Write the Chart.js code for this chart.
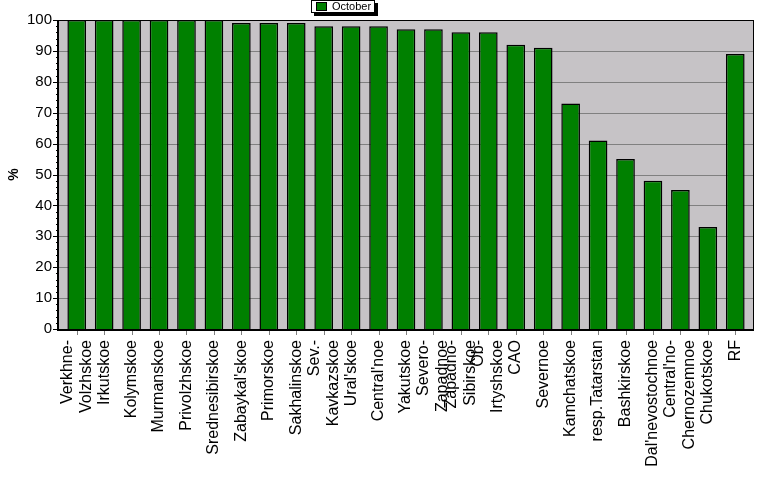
<!DOCTYPE html>
<html>
<head>
<meta charset="utf-8">
<script src="https://cdn.jsdelivr.net/npm/chart.js@4/dist/chart.umd.min.js"></script>
<style>
  html, body { margin: 0; padding: 0; background: #fff; }
  #wrap { width: 777px; height: 479px; }
</style>
</head>
<body>
<div id="wrap"><canvas id="myChart" width="777" height="479"></canvas></div>
<script>
var regions = [
    ["Verkhne-", "Volzhskoe"], "Irkutskoe", "Kolymskoe", "Murmanskoe", "Privolzhskoe",
    "Srednesibirskoe", "Zabaykal'skoe", "Primorskoe", "Sakhalinskoe", ["Sev.-", "Kavkazskoe"],
    "Ural'skoe", "Central'noe", "Yakutskoe", ["Severo-", "Zapadnoe"], ["Zapadno-", "Sibirskoe"],
    ["Ob-", "Irtyshskoe"], "CAO", "Severnoe", "Kamchatskoe", "resp.Tatarstan",
    "Bashkirskoe", "Dal'nevostochnoe", ["Central'no-", "Chernozemnoe"], "Chukotskoe", "RF"
];
var october = [100, 100, 100, 100, 100, 100, 99, 99, 99, 98, 98, 98, 97, 97, 96, 96, 92, 91, 73, 61, 55, 48, 45, 33, 89];
var yTicks = [0, 10, 20, 30, 40, 50, 60, 70, 80, 90, 100];
var seriesName = "October";

var FONT = "'Liberation Sans', Arial, sans-serif";
// plot frame is a bit wider than the category area
var FRAME_PAD = 5;

var framePlugin = {
    id: "frame",
    beforeDatasetsDraw: function(chart) {
        var ctx = chart.ctx, a = chart.chartArea, y = chart.scales.y, x = chart.scales.x;
        var l = a.left - FRAME_PAD, r = a.right + FRAME_PAD;
        ctx.save();
        ctx.fillStyle = "#c6c3c6";
        ctx.fillRect(l, a.top, r - l, a.bottom - a.top);
        ctx.lineWidth = 1;
        yTicks.forEach(function(v) {
            var py = Math.round(y.getPixelForValue(v)) + 0.5;
            ctx.strokeStyle = "#808080";
            ctx.beginPath(); ctx.moveTo(l, py); ctx.lineTo(r, py); ctx.stroke();
            ctx.strokeStyle = "#000";
            ctx.beginPath(); ctx.moveTo(l - 5, py); ctx.lineTo(l, py); ctx.stroke();
        });
        // minor ticks
        ctx.strokeStyle = "#000";
        for (var v = 2; v < 100; v += 2) {
            if (v % 10 === 0) continue;
            var py = Math.round(y.getPixelForValue(v)) + 0.5;
            ctx.beginPath(); ctx.moveTo(l - 2, py); ctx.lineTo(l, py); ctx.stroke();
        }
        // x tick marks
        ctx.strokeStyle = "#808080";
        regions.forEach(function(c, i) {
            var px = Math.round(x.getPixelForValue(i)) + 0.5;
            ctx.beginPath(); ctx.moveTo(px, a.bottom); ctx.lineTo(px, a.bottom + 6); ctx.stroke();
        });
        ctx.restore();
    },
    afterDatasetsDraw: function(chart) {
        var ctx = chart.ctx, a = chart.chartArea, x = chart.scales.x;
        var l = a.left - FRAME_PAD, r = a.right + FRAME_PAD;
        ctx.save();
        ctx.strokeStyle = "#000";
        ctx.lineWidth = 1;
        ctx.strokeRect(l + 0.5, a.top + 0.5, r - l - 1, a.bottom - a.top);
        ctx.lineWidth = 2;
        ctx.beginPath();
        ctx.moveTo(l, a.top); ctx.lineTo(l, a.bottom + 1); ctx.lineTo(r, a.bottom + 1);
        ctx.stroke();

        // category labels, rotated, multi-line ones centred on the tick
        ctx.fillStyle = "#000";
        ctx.font = "16px " + FONT;
        ctx.textAlign = "right";
        ctx.textBaseline = "middle";
        regions.forEach(function(lab, i) {
            var lines = Array.isArray(lab) ? lab : [lab];
            var px = x.getPixelForValue(i);
            ctx.save();
            ctx.translate(px, a.bottom + 11);
            ctx.rotate(-Math.PI / 2);
            lines.forEach(function(t, j) {
                ctx.fillText(t, 0, (j - (lines.length - 1) / 2) * 19);
            });
            ctx.restore();
        });

        // "%" axis title
        ctx.save();
        ctx.translate(14, (a.top + a.bottom) / 2);
        ctx.rotate(-Math.PI / 2);
        ctx.font = "bold 14px " + FONT;
        ctx.textAlign = "center";
        ctx.fillText("%", 0, 0);
        ctx.restore();

        // legend box
        var bx = 311, by = 0, bw = 64, bh = 13;
        ctx.fillStyle = "#000";
        ctx.fillRect(bx + 3, by + 3, bw, bh);
        ctx.fillStyle = "#fff";
        ctx.fillRect(bx, by, bw, bh);
        ctx.lineWidth = 1;
        ctx.strokeRect(bx + 0.5, by + 0.5, bw - 1, bh - 1);
        ctx.fillStyle = "#008000";
        ctx.fillRect(bx + 5, by + 2, 11, 9);
        ctx.strokeRect(bx + 5.5, by + 2.5, 10, 8);
        ctx.fillStyle = "#000";
        ctx.font = "11px " + FONT;
        ctx.textAlign = "left";
        ctx.textBaseline = "middle";
        ctx.fillText(chart.data.datasets[0].label, bx + 21, by + 7);
        ctx.restore();
    }
};

var ctx = document.getElementById("myChart").getContext("2d");

var myNewChart = new Chart(ctx, {
    type: "bar",
    data: {
        labels: regions,
        datasets: [{
            label: seriesName,
            data: october,
            backgroundColor: "#008000",
            borderColor: "#000",
            borderWidth: 1.5,
            barPercentage: 0.68,
            categoryPercentage: 1
        }]
    },
    options: {
        responsive: false,
        animation: false,
        layout: { padding: { top: 19, right: 777 - 749, left: 0, bottom: 0 } },
        plugins: {
            legend: { display: false },
            tooltip: { enabled: false }
        },
        scales: {
            x: {
                grid: { display: false, drawTicks: false },
                border: { display: false },
                afterFit: function(scale) { scale.height = 479 - 329; },
                ticks: { display: false }
            },
            y: {
                min: 0,
                max: 100,
                afterFit: function(scale) { scale.width = 63; },
                grid: { display: false, drawTicks: false },
                border: { display: false },
                ticks: {
                    stepSize: 10,
                    padding: 11,
                    color: "#000",
                    font: { family: FONT, size: 15 }
                }
            }
        }
    },
    plugins: [framePlugin]
});
</script>
</body>
</html>
